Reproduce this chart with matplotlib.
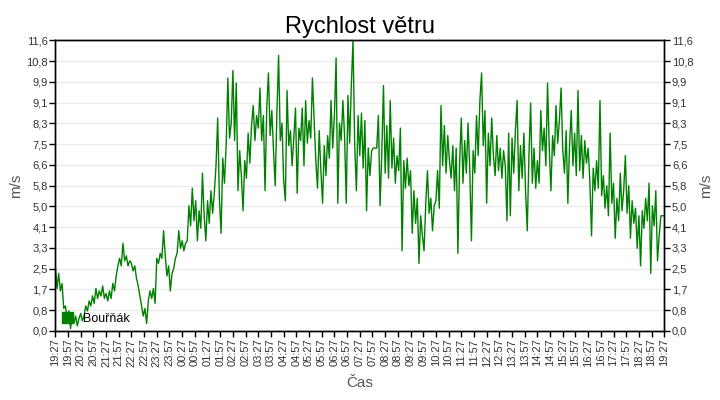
import matplotlib
matplotlib.use("Agg")
import matplotlib.pyplot as plt
import matplotlib.dates as mdates
import matplotlib.patches as mpatches
from matplotlib.ticker import FuncFormatter
import numpy as np
import pandas as pd

plt.rcParams["font.family"] = ["Liberation Sans", "DejaVu Sans"]

# --- Data (4 min sampling, 19:27 -> 19:27 next day) ---
START = "2024-05-01 19:27"
STEP = "4min"

wind = [
    # 19:27
    2.6, 1.7, 2.3, 1.6, 1.9, 0.9, 1.0, 0.5, 0.8, 0.1, 0.6, 0.3, 0.6, 0.2, 0.5,
    # 20:27
    0.7, 0.4, 0.6, 1.0, 0.8, 1.2, 1.0, 1.4, 1.1, 1.7, 1.3, 1.6, 1.4, 1.8, 1.3,
    # 21:27
    1.5, 1.2, 1.6, 1.3, 1.9, 1.6, 2.2, 2.6, 2.9, 2.6, 3.5, 2.8, 3.0, 2.6, 2.8,
    # 22:27
    2.7, 2.4, 2.6, 2.1, 1.8, 1.4, 1.0, 0.6, 0.9, 0.3, 1.2, 1.6, 1.3, 1.7, 1.1,
    # 23:27
    2.9, 2.7, 3.1, 2.9, 4.0, 3.0, 2.2, 2.6, 1.6, 2.3, 2.5, 2.9, 3.1, 4.0, 3.3,
    # 00:27
    3.6, 3.2, 3.5, 3.6, 5.0, 4.2, 5.7, 4.4, 5.2, 3.6, 4.8, 4.1, 6.3, 4.6, 3.6,
    # 01:27
    5.2, 4.3, 5.6, 4.7, 5.5, 6.6, 8.5, 5.3, 3.9, 6.9, 5.9, 7.4, 10.1, 7.7, 8.3,
    # 02:27
    10.4, 7.6, 9.9, 5.6, 7.2, 6.2, 4.8, 6.8, 6.1, 7.9, 6.7, 8.2, 9.0, 7.6, 8.6,
    # 03:27
    8.1, 9.7, 7.6, 8.6, 5.6, 8.9, 10.3, 7.8, 8.8, 7.2, 5.8, 8.7, 11.0, 7.6, 8.3,
    # 04:27
    6.0, 5.2, 9.6, 7.4, 8.0, 6.6, 7.7, 8.9, 5.5, 8.1, 7.6, 8.9, 6.6, 9.2, 7.5,
    # 05:27
    8.4, 7.7, 10.1, 8.5, 6.8, 5.7, 8.0, 6.4, 5.1, 7.4, 6.2, 7.8, 6.9, 9.2, 7.3,
    # 06:27
    8.6, 10.9, 5.1, 8.3, 7.6, 9.2, 7.8, 5.1, 9.4, 7.5, 9.8, 11.6, 7.4, 5.6, 8.6,
    # 07:27
    7.0, 8.7, 6.5, 8.4, 4.8, 7.3, 6.2, 7.2, 7.3, 7.3, 7.3, 8.6, 5.0, 7.1, 9.8,
    # 08:27
    6.3, 8.2, 6.1, 9.2, 6.5, 7.7, 5.9, 7.0, 6.4, 8.1, 3.2, 6.8, 5.7, 6.9, 5.8,
    # 09:27
    6.4, 3.9, 5.6, 4.3, 5.3, 2.7, 4.6, 3.8, 3.2, 5.1, 6.4, 4.7, 5.3, 4.0, 5.0,
    # 10:27
    5.2, 6.4, 4.9, 9.0, 6.6, 8.2, 6.3, 7.8, 6.8, 6.1, 7.4, 5.6, 7.3, 3.1, 6.7,
    # 11:27
    8.5, 5.9, 7.6, 6.3, 8.3, 6.5, 3.6, 7.2, 6.3, 8.6, 7.0, 9.2, 10.3, 7.4, 8.8,
    # 12:27
    5.1, 7.9, 6.6, 8.5, 7.0, 6.2, 7.8, 6.4, 7.3, 6.1, 7.2, 6.6, 4.4, 7.9, 4.6,
    # 13:27
    7.7, 6.3, 8.0, 9.2, 5.6, 7.4, 6.1, 7.9, 5.6, 4.0, 7.0, 9.1, 5.9, 7.3, 5.7,
    # 14:27
    6.8, 5.9, 8.8, 7.2, 8.1, 6.6, 9.9, 7.3, 5.6, 7.8, 7.0, 9.0, 7.5, 8.4, 9.7,
    # 15:27
    7.2, 6.3, 8.0, 5.1, 7.4, 8.8, 6.6, 7.9, 6.2, 9.6, 6.4, 7.8, 6.1, 7.6, 6.7,
    # 16:27
    7.3, 6.0, 3.8, 6.5, 5.6, 6.8, 5.7, 9.2, 5.4, 6.2, 4.9, 5.8, 4.6, 7.9, 5.1,
    # 17:27
    5.9, 3.7, 5.3, 4.4, 6.3, 4.8, 5.6, 7.0, 4.7, 5.8, 3.7, 5.2, 4.3, 4.9, 3.3,
    # 18:27
    4.6, 2.6, 4.8, 4.1, 5.3, 4.4, 5.9, 2.3, 5.0, 4.2, 5.6, 2.8, 3.8, 4.6, 4.6,
    4.6,
]

Y_MAX = 11.6
N_YTICKS = 15
SERIES_NAME = "Bouřňák"
TITLE = "Rychlost větru"
XLABEL = "Čas"
YLABEL = "m/s"

times = pd.date_range(START, periods=len(wind), freq=STEP)

# --- Figure ---
fig = plt.figure(figsize=(7.2, 4.0), dpi=100)
ax = fig.add_axes([0.0768, 0.1725, 0.8458, 0.7265])

ax.plot(times, wind, color="#008000", linewidth=1.0)

ax.set_xlim(times[0], times[-1])
ax.set_ylim(0, Y_MAX)

yticks = np.linspace(0, Y_MAX, N_YTICKS)
fmt = FuncFormatter(lambda v, p: f"{v:.1f}".replace(".", ","))
ax.set_yticks(yticks)
ax.yaxis.set_major_formatter(fmt)
ax.grid(True, axis="y", color="#ebebeb", linewidth=1)
ax.set_axisbelow(True)

ax.xaxis.set_major_locator(mdates.MinuteLocator(byminute=[27, 57]))
ax.xaxis.set_major_formatter(mdates.DateFormatter("%H:%M"))
ax.tick_params(axis="x", labelrotation=90)

ax.tick_params(labelsize=8, labelcolor="#333333", length=4, width=1,
               direction="out", pad=1.5)

ax2 = ax.twinx()
ax2.set_ylim(0, Y_MAX)
ax2.set_yticks(yticks)
ax2.yaxis.set_major_formatter(fmt)
ax2.tick_params(labelsize=8, labelcolor="#333333", length=4, width=1, pad=1.5)

for a in (ax, ax2):
    for s in a.spines.values():
        s.set_color("black")
        s.set_linewidth(1)

ax.set_title(TITLE, fontsize=17, pad=5)
ax.set_xlabel(XLABEL, fontsize=11, color="#555555", labelpad=7)
ax.set_ylabel(YLABEL, fontsize=11, color="#555555", labelpad=2)
ax2.set_ylabel(YLABEL, fontsize=11, color="#555555", labelpad=4)

handle = mpatches.Patch(color="#008000", label=SERIES_NAME)
ax.legend(handles=[handle], loc="lower left", frameon=False, fontsize=9,
          handlelength=0.95, handleheight=0.9, handletextpad=0.8,
          borderaxespad=0.3, borderpad=0.2)

fig.savefig("out.png", dpi=100)
